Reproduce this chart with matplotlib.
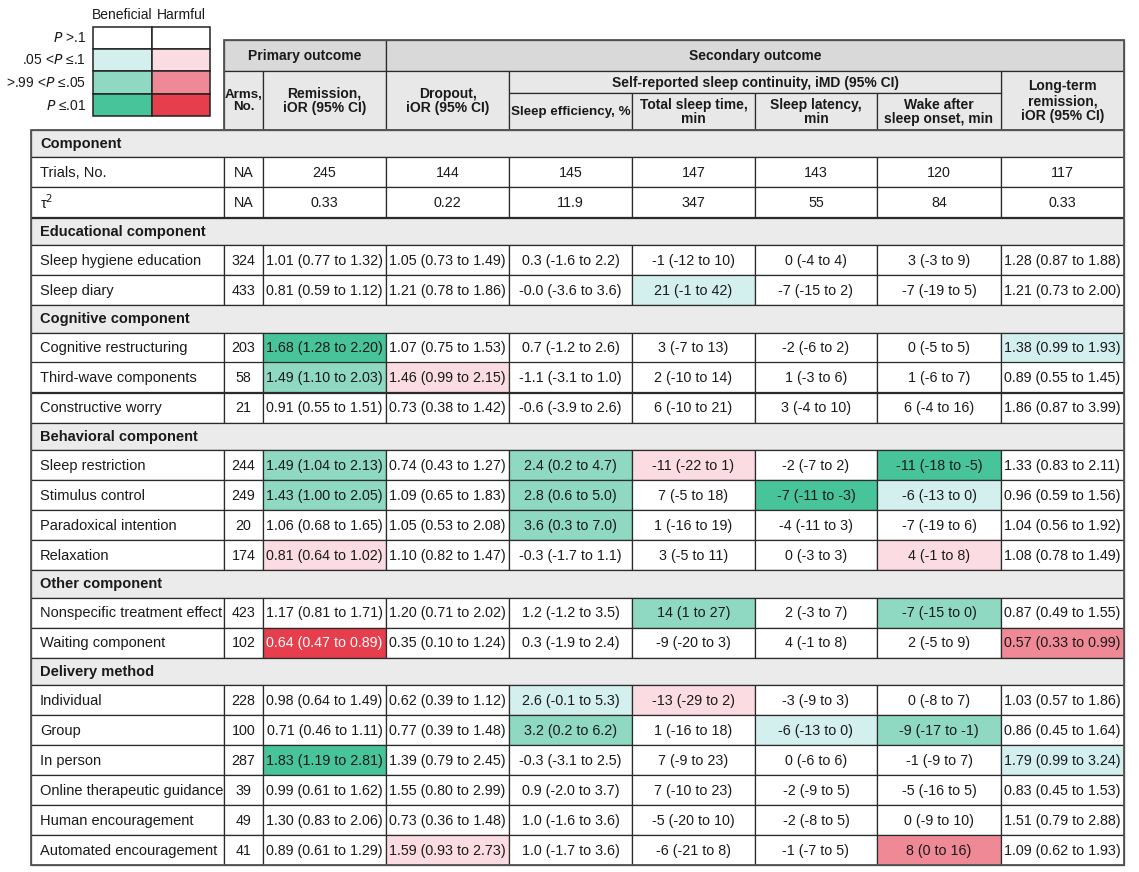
import matplotlib
matplotlib.use("Agg")
import matplotlib.pyplot as plt
from matplotlib.patches import Rectangle

FONT = ["Liberation Sans Narrow", "Liberation Sans", "DejaVu Sans"]
plt.rcParams["font.family"] = FONT
plt.rcParams["mathtext.fontset"] = "custom"
plt.rcParams["mathtext.it"] = "Liberation Sans Narrow:italic"
plt.rcParams["mathtext.rm"] = "Liberation Sans Narrow"

# ---------------- data ----------------
section_names = ["Component", "Educational component", "Cognitive component",
                 "Behavioral component", "Other component", "Delivery method"]
section_sizes = [2, 2, 3, 4, 2, 6]

row_labels = ["Trials, No.", r"τ$^{2}$",
              "Sleep hygiene education", "Sleep diary",
              "Cognitive restructuring", "Third-wave components", "Constructive worry",
              "Sleep restriction", "Stimulus control", "Paradoxical intention", "Relaxation",
              "Nonspecific treatment effect", "Waiting component",
              "Individual", "Group", "In person", "Online therapeutic guidance",
              "Human encouragement", "Automated encouragement"]

arms = ["NA", "NA", "324", "433", "203", "58", "21", "244", "249", "20", "174",
        "423", "102", "228", "100", "287", "39", "49", "41"]

remission = ["245", "0.33", "1.01 (0.77 to 1.32)", "0.81 (0.59 to 1.12)",
             "1.68 (1.28 to 2.20)", "1.49 (1.10 to 2.03)", "0.91 (0.55 to 1.51)",
             "1.49 (1.04 to 2.13)", "1.43 (1.00 to 2.05)", "1.06 (0.68 to 1.65)",
             "0.81 (0.64 to 1.02)", "1.17 (0.81 to 1.71)", "0.64 (0.47 to 0.89)",
             "0.98 (0.64 to 1.49)", "0.71 (0.46 to 1.11)", "1.83 (1.19 to 2.81)",
             "0.99 (0.61 to 1.62)", "1.30 (0.83 to 2.06)", "0.89 (0.61 to 1.29)"]
dropout = ["144", "0.22", "1.05 (0.73 to 1.49)", "1.21 (0.78 to 1.86)",
           "1.07 (0.75 to 1.53)", "1.46 (0.99 to 2.15)", "0.73 (0.38 to 1.42)",
           "0.74 (0.43 to 1.27)", "1.09 (0.65 to 1.83)", "1.05 (0.53 to 2.08)",
           "1.10 (0.82 to 1.47)", "1.20 (0.71 to 2.02)", "0.35 (0.10 to 1.24)",
           "0.62 (0.39 to 1.12)", "0.77 (0.39 to 1.48)", "1.39 (0.79 to 2.45)",
           "1.55 (0.80 to 2.99)", "0.73 (0.36 to 1.48)", "1.59 (0.93 to 2.73)"]
sleep_eff = ["145", "11.9", "0.3 (-1.6 to 2.2)", "-0.0 (-3.6 to 3.6)",
             "0.7 (-1.2 to 2.6)", "-1.1 (-3.1 to 1.0)", "-0.6 (-3.9 to 2.6)",
             "2.4 (0.2 to 4.7)", "2.8 (0.6 to 5.0)", "3.6 (0.3 to 7.0)",
             "-0.3 (-1.7 to 1.1)", "1.2 (-1.2 to 3.5)", "0.3 (-1.9 to 2.4)",
             "2.6 (-0.1 to 5.3)", "3.2 (0.2 to 6.2)", "-0.3 (-3.1 to 2.5)",
             "0.9 (-2.0 to 3.7)", "1.0 (-1.6 to 3.6)", "1.0 (-1.7 to 3.6)"]
total_sleep = ["147", "347", "-1 (-12 to 10)", "21 (-1 to 42)",
               "3 (-7 to 13)", "2 (-10 to 14)", "6 (-10 to 21)",
               "-11 (-22 to 1)", "7 (-5 to 18)", "1 (-16 to 19)", "3 (-5 to 11)",
               "14 (1 to 27)", "-9 (-20 to 3)",
               "-13 (-29 to 2)", "1 (-16 to 18)", "7 (-9 to 23)", "7 (-10 to 23)",
               "-5 (-20 to 10)", "-6 (-21 to 8)"]
latency = ["143", "55", "0 (-4 to 4)", "-7 (-15 to 2)",
           "-2 (-6 to 2)", "1 (-3 to 6)", "3 (-4 to 10)",
           "-2 (-7 to 2)", "-7 (-11 to -3)", "-4 (-11 to 3)", "0 (-3 to 3)",
           "2 (-3 to 7)", "4 (-1 to 8)",
           "-3 (-9 to 3)", "-6 (-13 to 0)", "0 (-6 to 6)", "-2 (-9 to 5)",
           "-2 (-8 to 5)", "-1 (-7 to 5)"]
waso = ["120", "84", "3 (-3 to 9)", "-7 (-19 to 5)",
        "0 (-5 to 5)", "1 (-6 to 7)", "6 (-4 to 16)",
        "-11 (-18 to -5)", "-6 (-13 to 0)", "-7 (-19 to 6)", "4 (-1 to 8)",
        "-7 (-15 to 0)", "2 (-5 to 9)",
        "0 (-8 to 7)", "-9 (-17 to -1)", "-1 (-9 to 7)", "-5 (-16 to 5)",
        "0 (-9 to 10)", "8 (0 to 16)"]
long_term = ["117", "0.33", "1.28 (0.87 to 1.88)", "1.21 (0.73 to 2.00)",
             "1.38 (0.99 to 1.93)", "0.89 (0.55 to 1.45)", "1.86 (0.87 to 3.99)",
             "1.33 (0.83 to 2.11)", "0.96 (0.59 to 1.56)", "1.04 (0.56 to 1.92)",
             "1.08 (0.78 to 1.49)", "0.87 (0.49 to 1.55)", "0.57 (0.33 to 0.99)",
             "1.03 (0.57 to 1.86)", "0.86 (0.45 to 1.64)", "1.79 (0.99 to 3.24)",
             "0.83 (0.45 to 1.53)", "1.51 (0.79 to 2.88)", "1.09 (0.62 to 1.93)"]

# significance codes: +1..+3 beneficial, -1..-3 harmful, 0 none
remission_sig = [0, 0, 0, 0, 3, 2, 0, 2, 2, 0, -1, 0, -3, 0, 0, 3, 0, 0, 0]
dropout_sig = [0, 0, 0, 0, 0, -1, 0, 0, 0, 0, 0, 0, 0, 0, 0, 0, 0, 0, -1]
sleep_eff_sig = [0, 0, 0, 0, 0, 0, 0, 2, 2, 2, 0, 0, 0, 1, 2, 0, 0, 0, 0]
total_sleep_sig = [0, 0, 0, 1, 0, 0, 0, -1, 0, 0, 0, 2, 0, -1, 0, 0, 0, 0, 0]
latency_sig = [0, 0, 0, 0, 0, 0, 0, 0, 3, 0, 0, 0, 0, 0, 1, 0, 0, 0, 0]
waso_sig = [0, 0, 0, 0, 0, 0, 0, 3, 1, 0, -1, 2, 0, 0, 2, 0, 0, 0, -2]
long_term_sig = [0, 0, 0, 0, 1, 0, 0, 0, 0, 0, 0, 0, -2, 0, 0, 1, 0, 0, 0]

legend_rows = [r"$\it{P}$ >.1", r".05 <$\it{P}$ ≤.1", r">.99 <$\it{P}$ ≤.05", r"$\it{P}$ ≤.01"]
legend_cols = ["Beneficial", "Harmful"]

sig_colors = {0: "white", 1: "#d3f0ee", 2: "#8fd9c3", 3: "#48c49a",
              -1: "#fadce2", -2: "#f08996", -3: "#e63e4d"}

value_cols = [remission, dropout, sleep_eff, total_sleep, latency, waso, long_term]
sig_cols = [remission_sig, dropout_sig, sleep_eff_sig, total_sleep_sig,
            latency_sig, waso_sig, long_term_sig]

# ---------------- layout ----------------
fig = plt.figure(figsize=(11.39, 8.72), dpi=100)
ax = fig.add_axes([0, 0, 1, 1])
ax.set_xlim(0, 1139)
ax.set_ylim(872, 0)
ax.axis("off")

EDGE = "#2b2b2b"
LW = 0.9
FS = 10.5
FS_DATA = 10.3
FS_HDR = 10.0

x_edges = [31, 224, 263, 386, 509, 632, 755, 877, 1001, 1124]
HDR_TOP, HDR_MID, HDR_SUB, HDR_BOT = 40, 71, 93, 130
SEC_H, ROW_H = 27.5, 30.0


def cell(x0, x1, y0, y1, fc, ec=EDGE, lw=LW):
    ax.add_patch(Rectangle((x0, y0), x1 - x0, y1 - y0, facecolor=fc,
                           edgecolor=ec, linewidth=lw))


def ctext(x0, x1, y0, y1, s, bold=False, color="#1a1a1a", size=FS_DATA, ls=1.0):
    ax.text((x0 + x1) / 2, (y0 + y1) / 2 + 0.5, s, ha="center", va="center",
            fontsize=size, fontweight="bold" if bold else "normal",
            color=color, linespacing=ls)


# header
TOPC, SUBC = "#d9d9d9", "#e8e8e8"
cell(x_edges[1], x_edges[3], HDR_TOP, HDR_MID, TOPC)
ctext(x_edges[1], x_edges[3], HDR_TOP, HDR_MID, "Primary outcome", bold=True, size=FS_HDR)
cell(x_edges[3], x_edges[9], HDR_TOP, HDR_MID, TOPC)
ctext(x_edges[3], x_edges[9], HDR_TOP, HDR_MID, "Secondary outcome", bold=True, size=FS_HDR)

full_headers = {1: "Arms,\nNo.", 2: "Remission,\niOR (95% CI)",
                3: "Dropout,\niOR (95% CI)", 8: "Long-term\nremission,\niOR (95% CI)"}
for i, s in full_headers.items():
    cell(x_edges[i], x_edges[i + 1], HDR_MID, HDR_BOT, SUBC)
    ctext(x_edges[i], x_edges[i + 1], HDR_MID, HDR_BOT, s, bold=True,
          size=(9.6 if i == 1 else FS_HDR), ls=1.05)
cell(x_edges[4], x_edges[8], HDR_MID, HDR_SUB, SUBC)
ctext(x_edges[4], x_edges[8], HDR_MID, HDR_SUB,
      "Self-reported sleep continuity, iMD (95% CI)", bold=True, size=FS_HDR)
sub_headers = {4: "Sleep efficiency, %", 5: "Total sleep time,\nmin",
               6: "Sleep latency,\nmin", 7: "Wake after\nsleep onset, min"}
for i, s in sub_headers.items():
    cell(x_edges[i], x_edges[i + 1], HDR_SUB, HDR_BOT, SUBC)
    ctext(x_edges[i], x_edges[i + 1], HDR_SUB, HDR_BOT, s, bold=True,
          size=(9.6 if i == 4 else FS_HDR), ls=1.05)

# body
SECC = "#ebebeb"
y = HDR_BOT
r = 0
for name, n in zip(section_names, section_sizes):
    cell(x_edges[0], x_edges[-1], y, y + SEC_H, SECC)
    ax.text(x_edges[0] + 9, y + SEC_H / 2 + 0.5, name, ha="left", va="center",
            fontsize=FS, fontweight="bold", color="#1a1a1a")
    y += SEC_H
    for _ in range(n):
        y0, y1 = y, y + ROW_H
        cell(x_edges[0], x_edges[1], y0, y1, "white")
        ax.text(x_edges[0] + 9, (y0 + y1) / 2 + 0.5, row_labels[r], ha="left",
                va="center", fontsize=FS, color="#1a1a1a")
        cell(x_edges[1], x_edges[2], y0, y1, "white")
        ctext(x_edges[1], x_edges[2], y0, y1, arms[r])
        for c, (vals, sigs) in enumerate(zip(value_cols, sig_cols)):
            xa, xb = x_edges[c + 2], x_edges[c + 3]
            cell(xa, xb, y0, y1, sig_colors[sigs[r]])
            col = "white" if sigs[r] == -3 else "#1a1a1a"
            ctext(xa, xb, y0, y1, vals[r], color=col)
        y += ROW_H
        r += 1

# outer border
ax.add_patch(Rectangle((x_edges[0], HDR_BOT), x_edges[-1] - x_edges[0], y - HDR_BOT,
                       facecolor="none", edgecolor="#555555", linewidth=1.3))
ax.add_patch(Rectangle((x_edges[1], HDR_TOP), x_edges[-1] - x_edges[1], HDR_BOT - HDR_TOP,
                       facecolor="none", edgecolor="#555555", linewidth=1.3))

# legend
lx = [93, 152, 210]
ly = [27, 49, 71, 94, 116]
for j, name in enumerate(legend_cols):
    ax.text((lx[j] + lx[j + 1]) / 2, 15, name, ha="center", va="center",
            fontsize=10, color="#1a1a1a")
for i, lab in enumerate(legend_rows):
    ax.text(86, (ly[i] + ly[i + 1]) / 2 + 0.5, lab, ha="right", va="center",
            fontsize=10, color="#1a1a1a")
    for j in range(2):
        code = i if j == 0 else -i
        cell(lx[j], lx[j + 1], ly[i], ly[i + 1], sig_colors[code], ec="#222222", lw=1.1)

fig.savefig("out.png", dpi=100)
